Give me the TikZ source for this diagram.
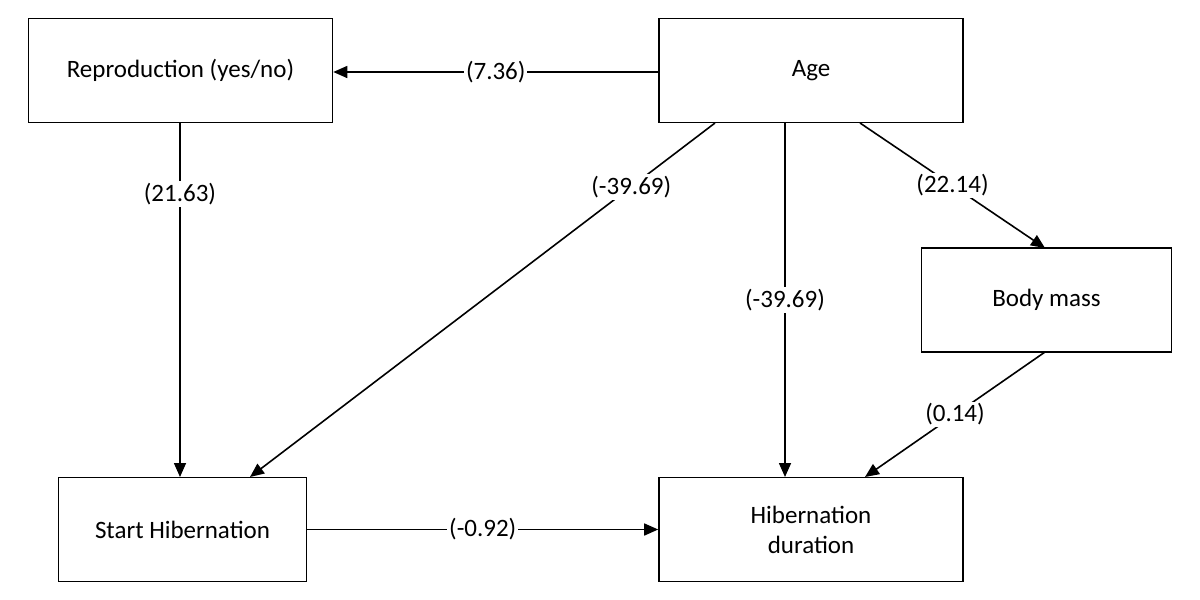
\documentclass[tikz,border=0pt]{standalone}
\usepackage{fontspec}
\setmainfont{Carlito}
\usetikzlibrary{arrows.meta}
\begin{document}
\begin{tikzpicture}[x=0.5pt,y=-0.5pt,
  box/.style={draw,line width=0.8pt,minimum width=152pt,minimum height=52pt,align=center,font=\fontsize{12.5}{15}\selectfont},
  arr/.style={draw,line width=0.8pt,-{Triangle[length=7pt,width=6pt]}},
  lab/.style={fill=white,inner sep=1pt,font=\fontsize{12.5}{15}\selectfont}]
\useasboundingbox (0,0) rectangle (1200,600);
\node[box] (rep) at (180.5,70.5) {Reproduction (yes/no)};
\node[box] (age) at (811,70.5) {Age};
\node[box,minimum width=125pt] (bm) at (1046.5,300) {Body mass};
\node[box,minimum width=124pt] (sh) at (182.5,529.5) {Start Hibernation};
\node[box] (hd) at (811,529.5) {Hibernation\\duration};
\coordinate (r0) at (180,123); \coordinate (s0) at (180,477);
\coordinate (a1) at (715,123); \coordinate (s1) at (250,477);
\coordinate (a2) at (785,123); \coordinate (h2) at (785,477);
\coordinate (a3) at (860,123); \coordinate (b3) at (1045,248);
\coordinate (b4) at (1045,352); \coordinate (h4) at (865,477);
\draw[arr] (age.west |- 0,72) -- node[lab,pos=0.5]{(7.36)} (rep.east |- 0,72);
\draw[arr] (r0) -- node[lab,pos=0.2]{(21.63)} (s0);
\draw[arr] (a1) -- node[lab,pos=0.18]{(-39.69)} (s1);
\draw[arr] (a2) -- node[lab,pos=0.5]{(-39.69)} (h2);
\draw[arr] (a3) -- node[lab,pos=0.5]{(22.14)} (b3);
\draw[arr] (b4) -- node[lab,pos=0.5]{(0.14)} (h4);
\draw[arr] (sh.east) -- node[lab,pos=0.5]{(-0.92)} (hd.west);
\end{tikzpicture}
\end{document}
